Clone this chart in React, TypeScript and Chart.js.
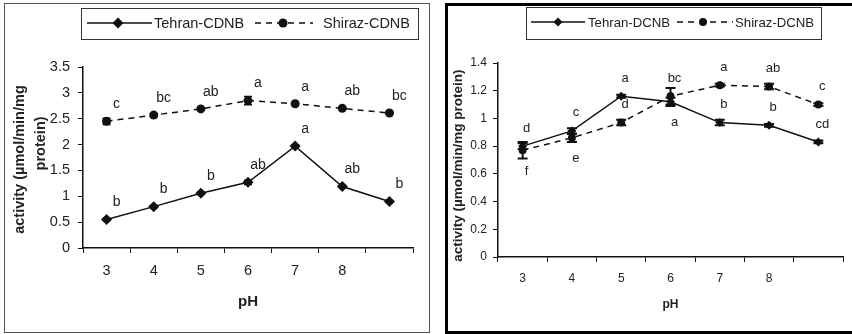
import React, { useEffect, useRef } from "react";
import { Chart, registerables } from "chart.js";

Chart.register(...registerables);

// ---------- data ----------
const phLabels = ["3", "4", "5", "6", "7", "8", ""];

// Left panel (CDNB)
const tehranCDNB = [0.55, 0.8, 1.06, 1.27, 1.97, 1.19, 0.9];
const tehranCDNBErr = [0.02, 0.02, 0.02, 0.04, 0.02, 0.02, 0.02];
const tehranCDNBLetters = ["b", "b", "b", "ab", "a", "ab", "b"];
const shirazCDNB = [2.45, 2.57, 2.69, 2.85, 2.79, 2.7, 2.61];
const shirazCDNBErr = [0.06, 0.03, 0.02, 0.08, 0.02, 0.02, 0.02];
const shirazCDNBLetters = ["c", "bc", "ab", "a", "a", "ab", "bc"];
const cdnbYMax = 3.5;
const cdnbYStep = 0.5;

// Right panel (DCNB)
const tehranDCNB = [0.8, 0.91, 1.16, 1.12, 0.97, 0.95, 0.83];
const tehranDCNBErr = [0.02, 0.02, 0.01, 0.03, 0.02, 0.01, 0.01];
const tehranDCNBLetters = ["d", "c", "a", "a", "b", "b", "cd"];
const tehranDCNBSides = ["above", "above", "above", "below", "above", "above", "above"];
const shirazDCNB = [0.77, 0.86, 0.97, 1.16, 1.24, 1.23, 1.1];
const shirazDCNBErr = [0.06, 0.03, 0.02, 0.06, 0.01, 0.02, 0.01];
const shirazDCNBLetters = ["f", "e", "d", "bc", "a", "ab", "c"];
const shirazDCNBSides = ["below", "below", "above", "above", "above", "above", "above"];
const dcnbYMax = 1.4;
const dcnbYStep = 0.2;

// ---------- styling ----------
const INK = "#111";
const FONT = "'Liberation Sans', Arial, Helvetica, sans-serif";

type Series = {
  label: string;
  data: number[];
  err: number[];
  letters: string[];
  sides?: string[];
  dashed: boolean;
  point: "rectRot" | "circle";
  radius: number;
};

type LegendItem = { x1: number; x2: number; mx: number; tx: number };

type PanelCfg = {
  series: Series[];
  yMax: number;
  yStep: number;
  w: number;
  h: number;
  padTop: number;
  padRight: number;
  yWidth: number;
  xHeight: number;
  tickFont: number;
  yTickPad: number;
  xTickPad: number;
  yTitle: string | string[];
  yTitleFont: number;
  yTitleLH: number;
  yTitlePad: number;
  xTitleFont: number;
  xTitlePad: number;
  letterFont: number;
  above: [number, number];
  below: [number, number];
  lineWidth: number;
  errWidth: number;
  errCap: number;
  legendBox: { x: number; y: number; w: number; h: number };
  legendY: number;
  legendFont: number;
  legendItems: LegendItem[];
  axisWidth: number;
};

function drawMarker(ctx: CanvasRenderingContext2D, style: string, x: number, y: number, r: number) {
  ctx.beginPath();
  if (style === "circle") {
    ctx.arc(x, y, r, 0, Math.PI * 2);
  } else {
    ctx.moveTo(x, y - r);
    ctx.lineTo(x + r, y);
    ctx.lineTo(x, y + r);
    ctx.lineTo(x - r, y);
    ctx.closePath();
  }
  ctx.fillStyle = INK;
  ctx.fill();
}

function makeExtras(cfg: PanelCfg) {
  return {
    id: "extras",
    afterDatasetsDraw(chart: any) {
      const ctx: CanvasRenderingContext2D = chart.ctx;
      const xs = chart.scales.x;
      const ys = chart.scales.y;
      cfg.series.forEach((s) => {
        // error bars
        ctx.save();
        ctx.strokeStyle = INK;
        ctx.lineWidth = cfg.errWidth;
        s.data.forEach((v, i) => {
          const e = s.err[i];
          if (!e) return;
          const px = xs.getPixelForValue(i);
          const y1 = ys.getPixelForValue(v + e);
          const y2 = ys.getPixelForValue(v - e);
          ctx.beginPath();
          ctx.moveTo(px, y1);
          ctx.lineTo(px, y2);
          ctx.moveTo(px - cfg.errCap, y1);
          ctx.lineTo(px + cfg.errCap, y1);
          ctx.moveTo(px - cfg.errCap, y2);
          ctx.lineTo(px + cfg.errCap, y2);
          ctx.stroke();
        });
        ctx.restore();
        // significance letters
        ctx.save();
        ctx.fillStyle = "#222";
        ctx.font = `${cfg.letterFont}px ${FONT}`;
        ctx.textAlign = "center";
        ctx.textBaseline = "middle";
        s.data.forEach((v, i) => {
          const side = s.sides ? s.sides[i] : "above";
          const off = side === "below" ? cfg.below : cfg.above;
          const px = xs.getPixelForValue(i);
          const py = ys.getPixelForValue(v);
          ctx.fillText(s.letters[i], px + off[0], py + off[1]);
        });
        ctx.restore();
      });
    },
    afterDraw(chart: any) {
      const ctx: CanvasRenderingContext2D = chart.ctx;
      const b = cfg.legendBox;
      ctx.save();
      ctx.strokeStyle = "#333";
      ctx.lineWidth = 1;
      ctx.strokeRect(b.x + 0.5, b.y + 0.5, b.w, b.h);
      ctx.font = `${cfg.legendFont}px ${FONT}`;
      ctx.textBaseline = "middle";
      ctx.textAlign = "left";
      cfg.series.forEach((s, k) => {
        const it = cfg.legendItems[k];
        ctx.strokeStyle = INK;
        ctx.lineWidth = cfg.lineWidth;
        ctx.setLineDash(s.dashed ? [6, 5] : []);
        ctx.beginPath();
        ctx.moveTo(it.x1, cfg.legendY);
        ctx.lineTo(it.x2, cfg.legendY);
        ctx.stroke();
        ctx.setLineDash([]);
        drawMarker(ctx, s.point, it.mx, cfg.legendY, s.radius);
        ctx.fillStyle = "#222";
        ctx.fillText(s.label, it.tx, cfg.legendY + 1);
      });
      ctx.restore();
    },
  };
}

function Panel({ cfg, style }: { cfg: PanelCfg; style: React.CSSProperties }) {
  const ref = useRef<HTMLCanvasElement | null>(null);
  useEffect(() => {
    if (!ref.current) return;
    const chart = new Chart(ref.current, {
      type: "line",
      data: {
        labels: phLabels,
        datasets: cfg.series.map((s) => ({
          label: s.label,
          data: s.data,
          borderColor: INK,
          backgroundColor: INK,
          borderWidth: cfg.lineWidth,
          borderDash: s.dashed ? [6, 5] : [],
          pointStyle: s.point,
          pointRadius: s.radius,
          pointBackgroundColor: INK,
          pointBorderColor: INK,
          pointBorderWidth: 0,
          tension: 0,
          fill: false,
        })),
      },
      options: {
        responsive: false,
        maintainAspectRatio: false,
        animation: false,
        layout: { padding: { top: cfg.padTop, right: cfg.padRight, left: 0, bottom: 0 } },
        plugins: {
          legend: { display: false },
          tooltip: { enabled: false },
        },
        scales: {
          x: {
            type: "category",
            offset: true,
            afterFit: (s: any) => {
              s.height = cfg.xHeight;
            },
            grid: {
              offset: true,
              drawOnChartArea: false,
              drawTicks: true,
              tickLength: 5,
              color: INK,
              lineWidth: 1,
            },
            border: { display: true, color: INK, width: cfg.axisWidth },
            ticks: {
              autoSkip: false,
              maxRotation: 0,
              minRotation: 0,
              padding: cfg.xTickPad,
              color: "#222",
              font: { family: FONT, size: cfg.tickFont },
            },
            title: {
              display: true,
              text: "pH",
              color: "#222",
              font: { family: FONT, size: cfg.xTitleFont, weight: "bold", lineHeight: 1.2 },
              padding: { top: 0, bottom: cfg.xTitlePad },
            },
          },
          y: {
            min: 0,
            max: cfg.yMax,
            afterFit: (s: any) => {
              s.width = cfg.yWidth;
            },
            grid: {
              drawOnChartArea: false,
              drawTicks: true,
              tickLength: 5,
              color: INK,
              lineWidth: 1,
            },
            border: { display: true, color: INK, width: cfg.axisWidth },
            ticks: {
              stepSize: cfg.yStep,
              padding: cfg.yTickPad,
              color: "#222",
              font: { family: FONT, size: cfg.tickFont },
              callback: (v: any) => String(Math.round(Number(v) * 100) / 100),
            },
            title: {
              display: true,
              text: cfg.yTitle,
              color: "#222",
              font: { family: FONT, size: cfg.yTitleFont, weight: "bold", lineHeight: cfg.yTitleLH },
              padding: { top: cfg.yTitlePad, bottom: 0 },
            },
          },
        },
      } as any,
      plugins: [makeExtras(cfg)],
    });
    return () => chart.destroy();
  }, [cfg]);
  return (
    <div style={style}>
      <canvas ref={ref} width={cfg.w} height={cfg.h} style={{ display: "block", width: cfg.w, height: cfg.h }} />
    </div>
  );
}

const leftCfg: PanelCfg = {
  series: [
    { label: "Tehran-CDNB", data: tehranCDNB, err: tehranCDNBErr, letters: tehranCDNBLetters, dashed: false, point: "rectRot", radius: 5.5 },
    { label: "Shiraz-CDNB", data: shirazCDNB, err: shirazCDNBErr, letters: shirazCDNBLetters, dashed: true, point: "circle", radius: 4.5 },
  ],
  yMax: cdnbYMax,
  yStep: cdnbYStep,
  w: 424,
  h: 328,
  padTop: 63,
  padRight: 16,
  yWidth: 78,
  xHeight: 84,
  tickFont: 14.5,
  yTickPad: 8,
  xTickPad: 9,
  yTitle: ["activity (µmol/min/mg ", "       protein)"],
  yTitleFont: 14.5,
  yTitleLH: 1.45,
  yTitlePad: 4.5,
  xTitleFont: 15,
  xTitlePad: 21,
  letterFont: 14,
  above: [10, -17],
  below: [10, 20],
  lineWidth: 1.5,
  errWidth: 1.5,
  errCap: 4,
  legendBox: { x: 76, y: 4, w: 337, h: 31 },
  legendY: 19,
  legendFont: 14.5,
  legendItems: [
    { x1: 82, x2: 147, mx: 113, tx: 149 },
    { x1: 250, x2: 308, mx: 278, tx: 318 },
  ],
  axisWidth: 1.5,
};

const rightCfg: PanelCfg = {
  series: [
    { label: "Tehran-DCNB", data: tehranDCNB, err: tehranDCNBErr, letters: tehranDCNBLetters, sides: tehranDCNBSides, dashed: false, point: "rectRot", radius: 4.5 },
    { label: "Shiraz-DCNB", data: shirazDCNB, err: shirazDCNBErr, letters: shirazDCNBLetters, sides: shirazDCNBSides, dashed: true, point: "circle", radius: 4 },
  ],
  yMax: dcnbYMax,
  yStep: dcnbYStep,
  w: 404,
  h: 325,
  padTop: 57,
  padRight: 9,
  yWidth: 50,
  xHeight: 74,
  tickFont: 12,
  yTickPad: 6,
  xTickPad: 9,
  yTitle: "activity (µmol/min/mg protein)   ",
  yTitleFont: 13.5,
  yTitleLH: 1.2,
  yTitlePad: 2,
  xTitleFont: 12,
  xTitlePad: 19,
  letterFont: 13,
  above: [4, -18],
  below: [4, 21],
  lineWidth: 1.5,
  errWidth: 2,
  errCap: 5,
  legendBox: { x: 78, y: 1, w: 295, h: 32 },
  legendY: 16,
  legendFont: 13.2,
  legendItems: [
    { x1: 83, x2: 137, mx: 110, tx: 140 },
    { x1: 229, x2: 285, mx: 255, tx: 287 },
  ],
  axisWidth: 1.5,
};

export default function App() {
  return (
    <div style={{ position: "absolute", left: 0, top: 0, width: 852, height: 334, background: "#fff", overflow: "hidden" }}>
      <Panel
        cfg={leftCfg}
        style={{ position: "absolute", left: 4, top: 3, width: 426, height: 330, boxSizing: "border-box", border: "1px solid #555" }}
      />
      <Panel
        cfg={rightCfg}
        style={{ position: "absolute", left: 445, top: 3, width: 410, height: 331, boxSizing: "border-box", border: "3px solid #000" }}
      />
    </div>
  );
}
